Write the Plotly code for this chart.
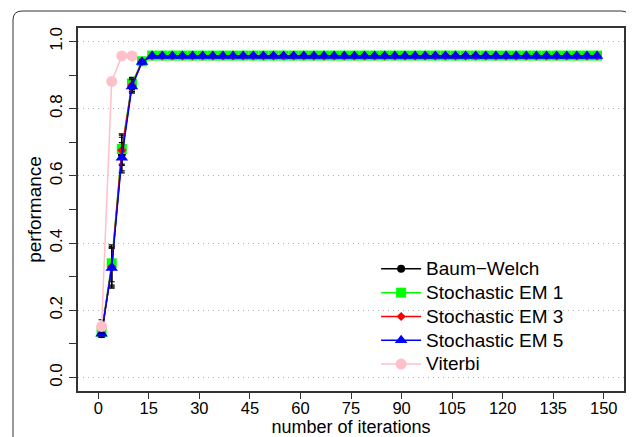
import plotly.graph_objects as go

iterations = [1, 4, 7, 10, 13, 16, 19, 22, 25, 28, 31, 34, 37, 40, 43, 46, 49, 52, 55, 58,
              61, 64, 67, 70, 73, 76, 79, 82, 85, 88, 91, 94, 97, 100, 103, 106, 109, 112, 115, 118,
              121, 124, 127, 130, 133, 136, 139, 142, 145, 148]

plateau = [0.957] * 45

baum_welch = [0.130, 0.330, 0.665, 0.870, 0.940] + plateau
baum_welch_err = [0.010, 0.060, 0.050, 0.020, 0.006] + [0.003] * 45

sem1 = [0.135, 0.340, 0.680, 0.875, 0.941] + [0.958] * 45
sem1_err = [0.010, 0.055, 0.045, 0.018, 0.006] + [0.003] * 45

sem3 = [0.130, 0.330, 0.676, 0.870, 0.940] + plateau
sem3_err = [0.010, 0.055, 0.045, 0.018, 0.006] + [0.003] * 45

sem5 = [0.130, 0.326, 0.654, 0.866, 0.939] + plateau
sem5_err = [0.010, 0.060, 0.045, 0.020, 0.006] + [0.003] * 45

viterbi_iter = [1, 4, 7, 10]
viterbi = [0.152, 0.881, 0.957, 0.957]
viterbi_err = [0.020, 0.008, 0.003, 0.003]

x_ticks = [0, 15, 30, 45, 60, 75, 90, 105, 120, 135, 150]
y_ticks = [0.0, 0.2, 0.4, 0.6, 0.8, 1.0]

series = [
    ("Baum\u2212Welch", iterations, baum_welch, baum_welch_err, "black", "circle", 8),
    ("Stochastic EM 1", iterations, sem1, sem1_err, "#00ff00", "square", 10),
    ("Stochastic EM 3", iterations, sem3, sem3_err, "#ff0000", "diamond", 7),
    ("Stochastic EM 5", iterations, sem5, sem5_err, "#0000ff", "triangle-up", 11),
    ("Viterbi", viterbi_iter, viterbi, viterbi_err, "#ffc0cb", "circle", 11),
]

fig = go.Figure()
for name, xs, ys, es, col, sym, sz in series:
    fig.add_trace(go.Scatter(
        x=xs, y=ys, name=f"<span style='font-size:19px'>{name}</span>",
        mode="lines+markers",
        line=dict(color=col, width=1.5),
        marker=dict(color=col, symbol=sym, size=sz, line=dict(width=0)),
        error_y=dict(type="data", array=es, color="black", thickness=1.2, width=3),
    ))

# the page adds an 8px body margin, so the figure is 8px smaller than the window
OFF = 8
W, H = 634 - OFF, 437 - OFF
L, T = 78 - OFF, 28 - OFF
R = W - (624 - OFF)
B = H - (391 - OFF)
pw, ph = W - L - R, H - T - B
x0 = (13 - OFF - L) / pw
x1 = (630 - OFF - L) / pw
y1 = (H - B - (11 - OFF)) / ph
y0 = (H - B - 460) / ph
rx, ry = 9 / pw, 9 / ph
path = (f"M {x0},{y0} L {x0},{y1 - ry} Q {x0},{y1} {x0 + rx},{y1} "
        f"L {x1 - rx},{y1} Q {x1},{y1} {x1},{y1 - ry} L {x1},{y0}")

fig.update_layout(
    template="none",
    width=W, height=H,
    margin=dict(l=L, r=R, t=T, b=B),
    paper_bgcolor="white", plot_bgcolor="white",
    font=dict(family="Liberation Sans, Arial, sans-serif", size=17, color="black"),
    showlegend=True,
    legend=dict(x=0.546, y=0.383, xanchor="left", yanchor="top",
                bgcolor="rgba(0,0,0,0)", font=dict(size=16),
                tracegroupgap=0, itemwidth=40, borderwidth=0),
    shapes=[dict(type="path", path=path, xref="paper", yref="paper",
                 line=dict(color="#333333", width=1))],
)
fig.update_xaxes(
    automargin=False,
    range=[-6, 156], tickmode="array", tickvals=x_ticks,
    ticks="outside", ticklen=6, tickcolor="#333333", showgrid=False, zeroline=False,
    ticklabelstandoff=-5, tickfont=dict(size=16.5),
    showline=True, linecolor="#333333", linewidth=2, mirror=True,
    title=dict(text="number of iterations", font=dict(size=18), standoff=9),
)
fig.update_yaxes(
    automargin=False,
    range=[-0.04, 1.04], tickmode="array", tickvals=y_ticks, tickformat=".1f",
    tickangle=-90, ticks="outside", ticklen=7, tickcolor="#333333",
    minor=dict(dtick=0.1, ticks="outside", ticklen=7, tickcolor="#333333", showgrid=False),
    showgrid=True, gridcolor="#b0b0b0", griddash="1px,4px", gridwidth=1, zeroline=False,
    showline=True, linecolor="#333333", linewidth=2, mirror=True,
    title=dict(text="performance", font=dict(size=19), standoff=1),
)

fig.write_html("out.html")
